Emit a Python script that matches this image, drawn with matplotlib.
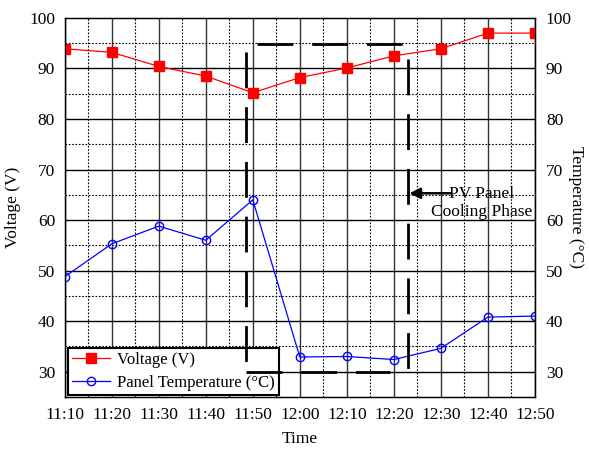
import matplotlib
matplotlib.use("Agg")
import matplotlib.pyplot as plt
import numpy as np

plt.rcParams['font.family'] = ['Liberation Serif', 'DejaVu Serif']

times = ["11:10", "11:20", "11:30", "11:40", "11:50", "12:00",
         "12:10", "12:20", "12:30", "12:40", "12:50"]
voltage = [93.9, 93.2, 90.4, 88.5, 85.2, 88.2, 90.1, 92.5, 93.9, 97.0, 97.0]
temperature = [48.8, 55.3, 58.8, 56.0, 64.0, 32.9, 33.0, 32.4, 34.6, 40.8, 41.0]
yticks = [30, 40, 50, 60, 70, 80, 90, 100]

FS = 12.5

fig = plt.figure(figsize=(5.89, 4.49), dpi=100)
ax = fig.add_axes([0.110, 0.116, 0.798, 0.844])
x = np.arange(len(times))

ax.set_xlim(0, len(times) - 1)
ax.set_ylim(25, 100)

# grid
for xi in x:
    ax.axvline(xi, color='#333333', lw=1.0, zorder=1)
for xi in x[:-1] + 0.5:
    ax.axvline(xi, color='black', lw=0.8, ls=(0, (1.5, 1.5)), zorder=1)
for yv in yticks[:-1]:
    ax.axhline(yv, color='black', lw=1.0, zorder=1)
for yv in np.arange(35, 100, 10):
    ax.axhline(yv, color='black', lw=0.8, ls=(0, (1.5, 1.5)), zorder=1)

l1, = ax.plot(x, voltage, color='red', lw=0.9, marker='s', markersize=6.5,
              markerfacecolor='red', markeredgecolor='red', zorder=4,
              label='Voltage (V)')
l2, = ax.plot(x, temperature, color='blue', lw=0.9, marker='o', markersize=6,
              markerfacecolor='none', markeredgecolor='blue', markeredgewidth=1.0,
              zorder=4, label='Panel Temperature (°C)')

# dashed cooling-phase box
dash = (0, (12.9, 6.8))
kw = dict(color='black', lw=2.0, ls=dash, zorder=5, dash_capstyle='butt')
ax.plot([3.845, 3.845], [93.3, 30.0], **kw)
ax.plot([4.085, 7.20], [94.8, 94.8], **kw)
ax.plot([7.30, 7.30], [91.9, 30.3], **kw)
ax.plot([3.845, 6.91], [30.0, 30.0], **kw)

ax.annotate('', xy=(7.33, 65.3), xytext=(8.20, 65.3),
            arrowprops=dict(arrowstyle='-|>', color='black', lw=1.8,
                            mutation_scale=16, shrinkA=0, shrinkB=0), zorder=6)
ax.text(8.87, 63.3, 'PV Panel\nCooling Phase', ha='center', va='center',
        fontsize=FS, linespacing=1.15, zorder=6)

ax.set_xticks(x)
ax.set_xticklabels(times, fontsize=FS)
ax.set_yticks(yticks)
ax.set_yticklabels([str(v) for v in yticks], fontsize=FS)
ax.tick_params(axis='both', length=0, pad=7)
ax.set_ylabel('Voltage (V)', fontsize=FS, labelpad=6)
ax.set_xlabel('Time', fontsize=FS, labelpad=6)
for s in ax.spines.values():
    s.set_color('black')
    s.set_linewidth(1.0)

ax2 = ax.twinx()
ax2.set_ylim(25, 100)
ax2.set_yticks(yticks)
ax2.set_yticklabels([str(v) for v in yticks], fontsize=FS)
ax2.tick_params(axis='y', length=0, pad=8)
ax2.set_ylabel('Temperature (°C)', fontsize=FS, rotation=270, labelpad=9)

leg = ax.legend(handles=[l1, l2], loc='lower left', bbox_to_anchor=(0.006, 0.005),
                fontsize=12, frameon=True, fancybox=False, framealpha=1,
                edgecolor='black', borderpad=0.25, handlelength=2.3,
                handletextpad=0.4, labelspacing=0.4, borderaxespad=0.0)
leg.get_frame().set_linewidth(1.5)
leg.set_zorder(3)

fig.savefig('out.png', dpi=100)
